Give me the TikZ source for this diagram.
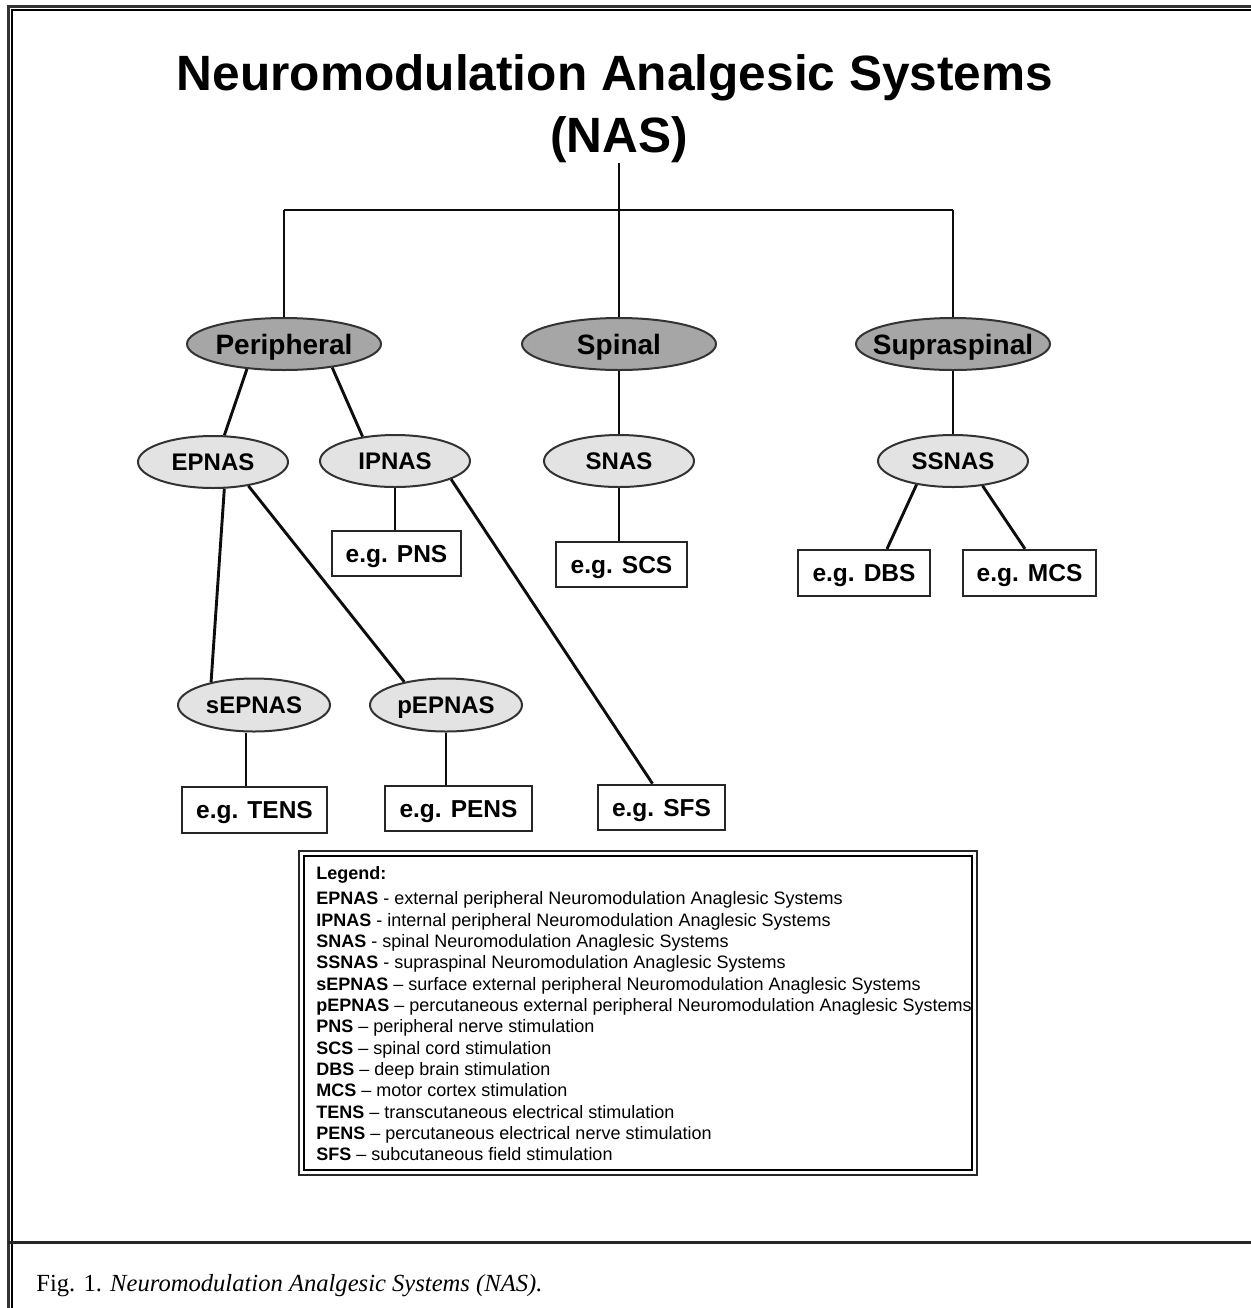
\documentclass[tikz,border=0pt]{standalone}
\usepackage{fontspec}
\setmainfont{Liberation Sans}
\newfontfamily\capfont{Liberation Serif}
\usetikzlibrary{shapes.geometric,calc}
\newcommand\zw[1]{\makebox[0pt]{\smash{\raisebox{-0.36em}{#1}}}}
\begin{document}
\begin{tikzpicture}[x=0.5pt,y=-0.5pt,
  conn/.style={line width=1.45pt, black!95},
  topell/.style={ellipse, draw=black!80, line width=1pt, fill=black!35, minimum width=97pt, minimum height=26pt, inner sep=0pt, font=\fontsize{14}{16}\selectfont\bfseries},
  subell/.style={ellipse, draw=black!80, line width=1pt, fill=black!11, minimum width=75pt, minimum height=26pt, inner sep=0pt, font=\fontsize{12}{14}\selectfont\bfseries},
  egbox/.style={rectangle, draw=black!85, line width=1.1pt, fill=white, minimum height=22.75pt, inner sep=0pt, font=\fontsize{12.25}{14}\selectfont\bfseries},
]
\useasboundingbox (0,0) rectangle (1251,1308);
% outer frame
\draw[line width=1.5pt, black!80] (8,1308) -- (8,6) -- (1251,6);
\draw[line width=0.7pt] (12,1308) -- (12,10) -- (1251,10);
\draw[line width=1.5pt, black!85] (8,1242) -- (1251,1242);

% title
\node[font=\fontsize{24.8}{31}\selectfont\bfseries, inner sep=0pt, anchor=base] (title1) at (615,90) {Neuromodulation Analgesic Systems};
\node[font=\fontsize{24.8}{31}\selectfont\bfseries, inner sep=0pt, anchor=base] (title2) at (619,152) {(NAS)};

\coordinate (hub) at (619,210);
\coordinate (hl) at (284,210);
\coordinate (hr) at (953,210);

% top-level ellipses
\node[topell] (periph) at (284,344) {\zw{Peripheral}};
\node[topell] (spinal) at (619,344) {\zw{Spinal}};
\node[topell] (supra) at (953,344) {\zw{Supraspinal}};

% second level
\node[subell] (epnas) at (213,462) {\zw{EPNAS}};
\node[subell] (ipnas) at (395,461) {\zw{IPNAS}};
\node[subell] (snas) at (619,461) {\zw{SNAS}};
\node[subell] (ssnas) at (953,461) {\zw{SSNAS}};
\node[subell, minimum width=76pt, minimum height=26.5pt] (sepnas) at (254,705) {\zw{sEPNAS}};
\node[subell, minimum width=76pt, minimum height=26.5pt] (pepnas) at (446,705) {\zw{pEPNAS}};

% example boxes
\node[egbox, minimum width=64.5pt] (pns) at (396.5,553.5) {\zw{e.g. PNS}};
\node[egbox, minimum width=65.5pt] (scs) at (621.5,564.5) {\zw{e.g. SCS}};
\node[egbox, minimum width=66pt, minimum height=23pt] (dbs) at (864,573) {\zw{e.g. DBS}};
\node[egbox, minimum width=66.5pt, minimum height=23pt] (mcs) at (1029.5,573) {\zw{e.g. MCS}};
\node[egbox, minimum width=72.5pt, minimum height=23pt] (tens) at (254.5,810) {\zw{e.g. TENS}};
\node[egbox, minimum width=73.5pt] (pens) at (458.5,808.5) {\zw{e.g. PENS}};
\node[egbox, minimum width=63.5pt] (sfs) at (661.5,807.5) {\zw{e.g. SFS}};

% connectors
\draw[conn] (title2.south) -- (hub);
\draw[conn] (hl) -- (hr);
\draw[conn] (hl) -- (periph);
\draw[conn] (hub) -- (spinal);
\draw[conn] (hr) -- (supra);
\draw[conn] (periph.-146) -- (epnas.67);
\draw[conn] (periph.-26) -- (ipnas.143);
\draw[conn] (epnas.-67) -- (sepnas.152);
\draw[conn] (epnas.-34) -- (pepnas.151);
\draw[conn] (ipnas.-18) -- ($(sfs.north)+(-9,0)$);
\draw[conn] (ipnas.south) -- (ipnas.south |- pns.north);
\draw[conn] (spinal) -- (snas);
\draw[conn] (snas.south) -- (snas.south |- scs.north);
\draw[conn] (supra) -- (ssnas);
\draw[conn] (ssnas.-147) -- ($(dbs.north)+(23,0)$);
\draw[conn] (ssnas.-40) -- ($(mcs.north)+(-4.5,0)$);
\coordinate (sx) at ($(sepnas.south)+(-8,0)$);
\draw[conn] (sx) -- (sx |- tens.north);
\draw[conn] (pepnas.south) -- (pepnas.south |- pens.north);

% legend
\draw[line width=1.3pt, black!85] (299,851) rectangle (977,1175);
\draw[line width=0.6pt] (304,856) rectangle (972,1170);
\node[anchor=north west, inner sep=0pt, align=left, font=\fontsize{9}{10.67}\selectfont] (legend) at (316,866) {%
\textbf{Legend:}\\[2pt]
\textbf{EPNAS} - external peripheral Neuromodulation Anaglesic Systems\\
\textbf{IPNAS} - internal peripheral Neuromodulation Anaglesic Systems\\
\textbf{SNAS} - spinal Neuromodulation Anaglesic Systems\\
\textbf{SSNAS} - supraspinal Neuromodulation Anaglesic Systems\\
\textbf{sEPNAS} – surface external peripheral Neuromodulation Anaglesic Systems\\
\textbf{pEPNAS} – percutaneous external peripheral Neuromodulation Anaglesic Systems\\
\textbf{PNS} – peripheral nerve stimulation\\
\textbf{SCS} – spinal cord stimulation\\
\textbf{DBS} – deep brain stimulation\\
\textbf{MCS} – motor cortex stimulation\\
\textbf{TENS} – transcutaneous electrical stimulation\\
\textbf{PENS} – percutaneous electrical nerve stimulation\\
\textbf{SFS} – subcutaneous field stimulation};

% caption
\node[anchor=base west, inner sep=0pt, font=\capfont\fontsize{12.3}{14}\selectfont] (caption) at (36,1291) {Fig. 1. \textit{Neuromodulation Analgesic Systems (NAS).}};
\end{tikzpicture}
\end{document}
